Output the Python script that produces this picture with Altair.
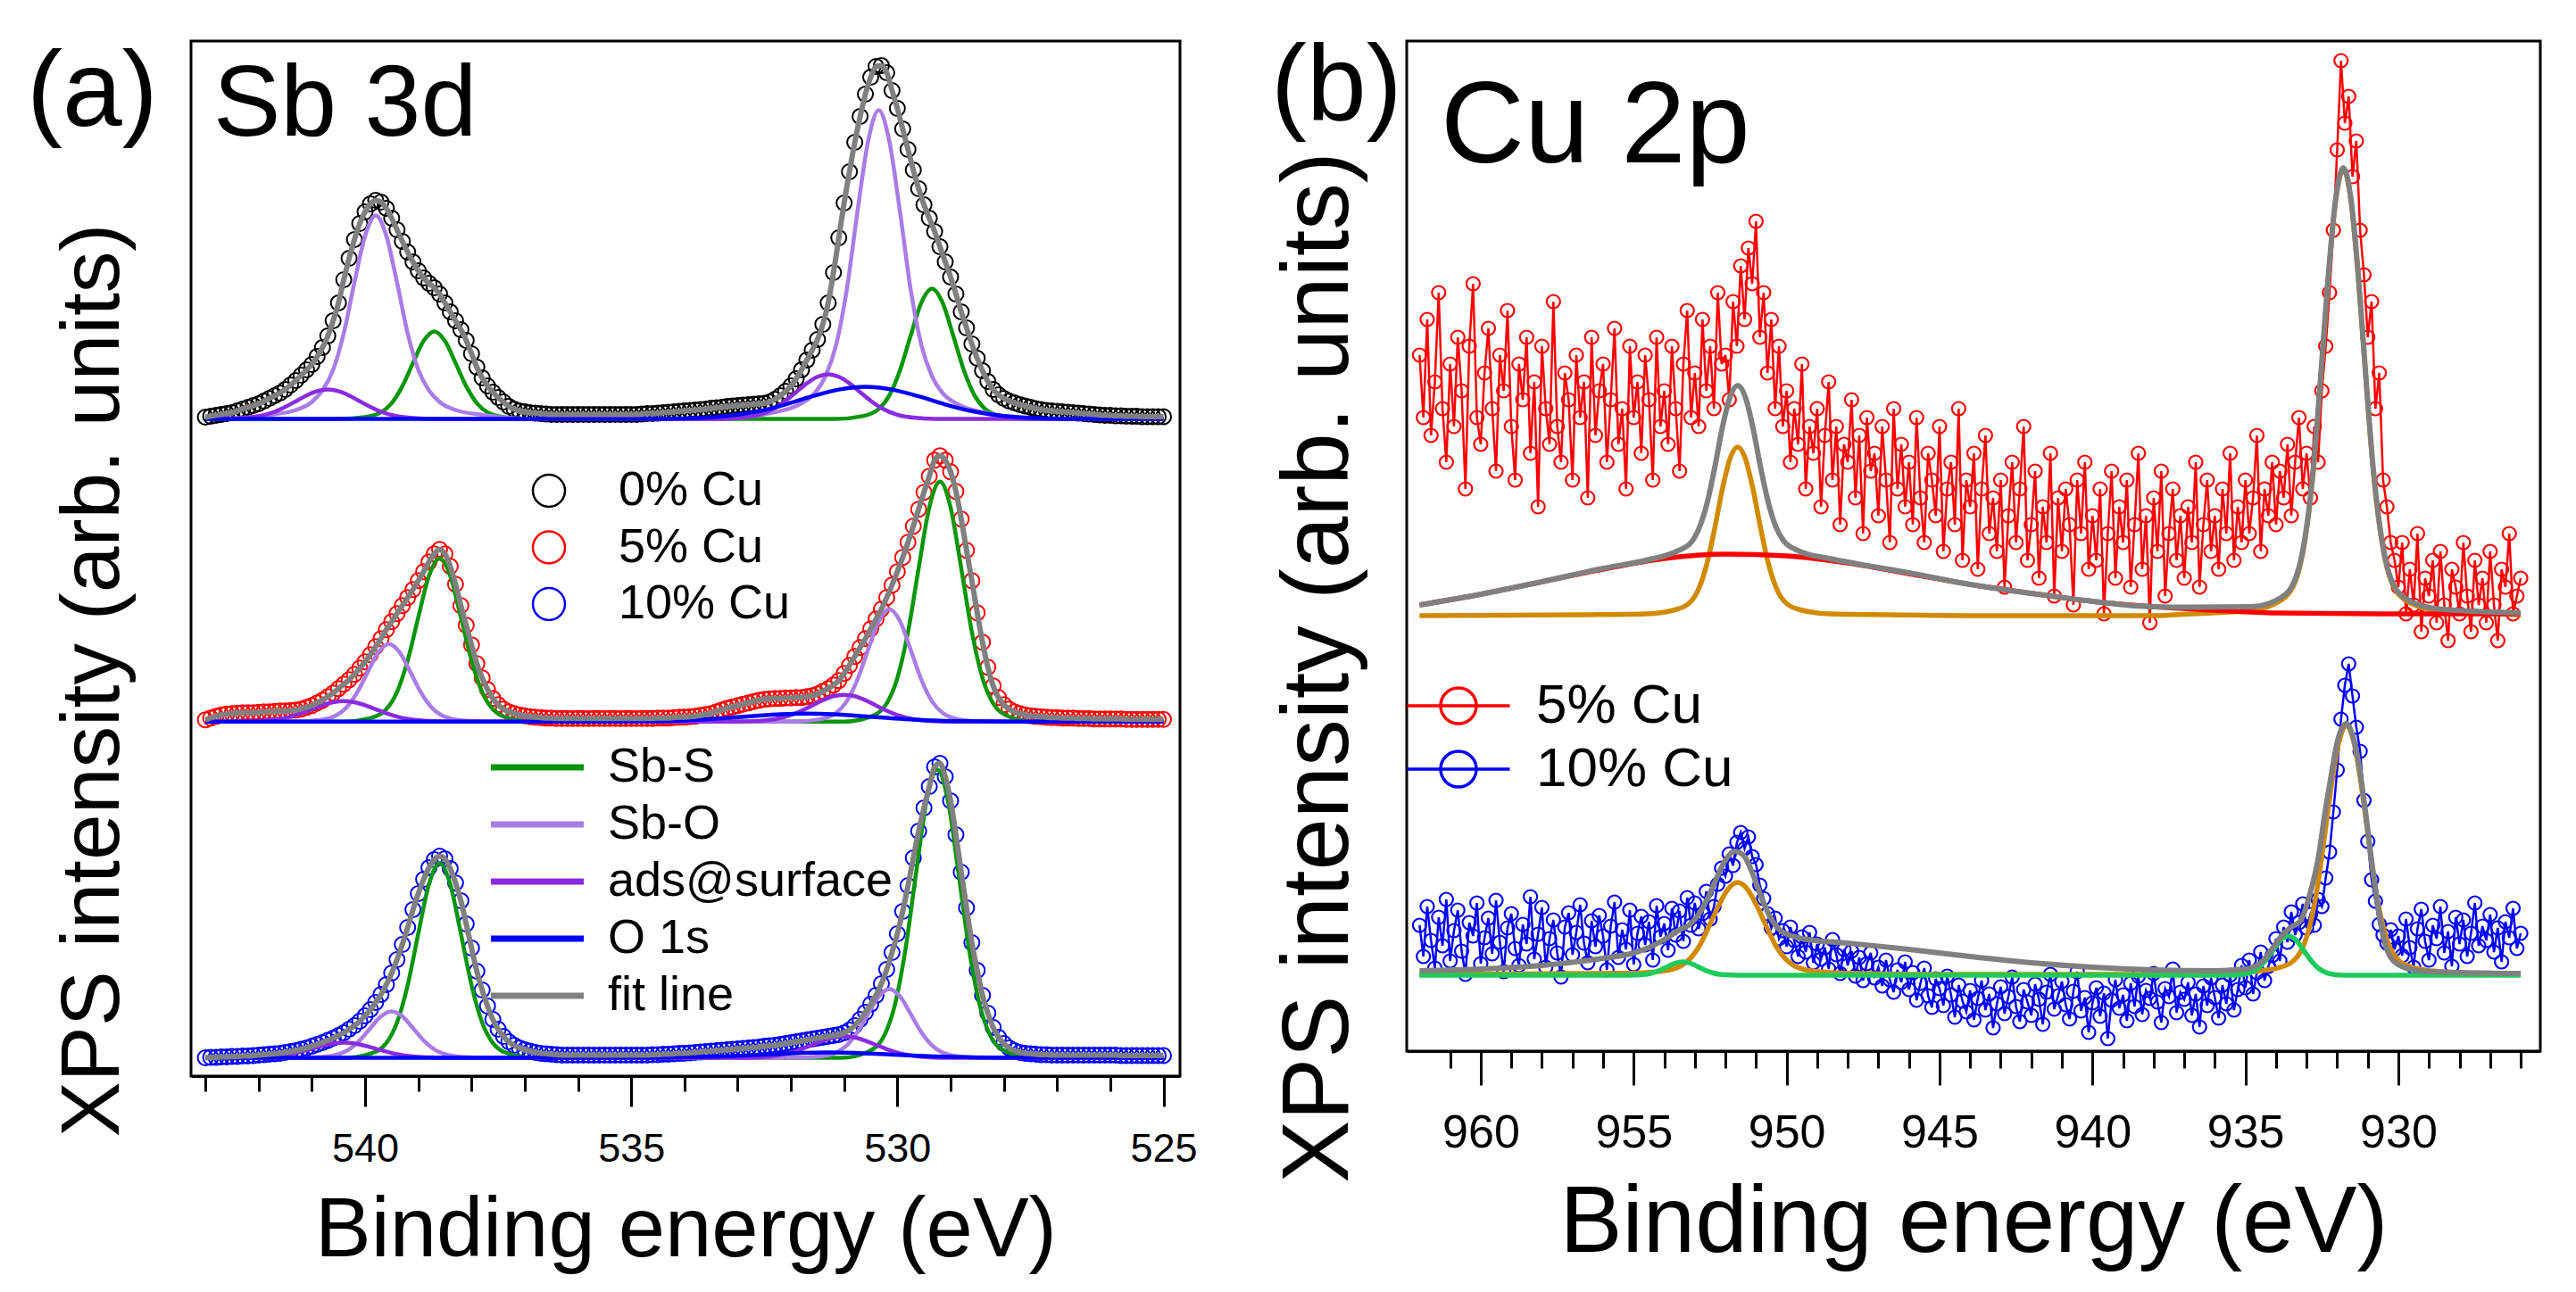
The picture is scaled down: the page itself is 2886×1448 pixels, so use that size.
import numpy as np
import pandas as pd
import altair as alt

FONT = "Liberation Sans, Arial, Helvetica, sans-serif"

# ======================= panel (a) : Sb 3d =======================
SB_E_START, SB_E_STEP, SB_E_COUNT = 543.0, 0.1, 181          # binding-energy sampling (eV)
SB_SAMPLES = ["0% Cu", "5% Cu", "10% Cu"]
SB_SAMPLE_COLORS = ["#000000", "#FF0000", "#0000FF"]
# stacking offset of each spectrum (intensity units)
SB_OFFSET = {"0% Cu": 73.65, "5% Cu": 39.73, "10% Cu": 2.05}

# measured intensity above each spectrum's baseline, 543.0 -> 525.0 eV, 0.1 eV steps
SB_0 = [
    0.2, 0.3, 0.4, 0.5, 0.6, 0.7, 0.9, 1.1, 1.3, 1.5,
    1.7, 2.0, 2.3, 2.6, 2.9, 3.3, 3.8, 4.3, 4.9, 5.5,
    6.1, 7.0, 8.0, 9.3, 11.0, 13.0, 15.6, 18.0, 20.1, 21.9,
    23.2, 24.1, 24.5, 24.3, 23.6, 22.5, 21.2, 19.9, 18.7, 17.6,
    16.6, 15.8, 15.2, 14.7, 14.0, 13.0, 12.0, 11.0, 10.0, 8.8,
    7.3, 5.8, 4.6, 3.7, 3.0, 2.4, 1.9, 1.4, 1.1, 0.9,
    0.8, 0.7, 0.65, 0.6, 0.55, 0.5, 0.5, 0.5, 0.5, 0.5,
    0.5, 0.5, 0.5, 0.5, 0.5, 0.5, 0.5, 0.5, 0.5, 0.5,
    0.5, 0.5, 0.55, 0.6, 0.6, 0.65, 0.7, 0.75, 0.8, 0.85,
    0.9, 0.95, 1.0, 1.05, 1.1, 1.2, 1.25, 1.3, 1.4, 1.45,
    1.5, 1.55, 1.6, 1.65, 1.7, 1.75, 1.9, 2.2, 2.6, 3.1,
    3.7, 4.5, 5.5, 6.6, 7.7, 8.9, 10.6, 13.0, 16.4, 20.3,
    24.2, 27.7, 31.0, 33.9, 36.4, 38.3, 39.5, 39.6, 38.8, 36.8,
    34.8, 32.5, 30.2, 27.9, 25.8, 24.0, 22.5, 21.0, 19.3, 17.6,
    15.9, 14.0, 12.0, 10.2, 8.4, 6.8, 5.4, 4.2, 3.3, 2.7,
    2.3, 2.0, 1.8, 1.6, 1.45, 1.3, 1.15, 1.05, 0.95, 0.9,
    0.85, 0.8, 0.75, 0.7, 0.65, 0.6, 0.55, 0.5, 0.45, 0.4,
    0.4, 0.35, 0.35, 0.3, 0.3, 0.3, 0.25, 0.25, 0.25, 0.25,
    0.25,
]
SB_5 = [
    0.2, 0.4, 0.6, 0.75, 0.85, 0.9, 0.95, 1.0, 1.0, 1.0,
    1.05, 1.1, 1.1, 1.15, 1.2, 1.2, 1.25, 1.3, 1.4, 1.6,
    1.8, 2.1, 2.4, 2.8, 3.2, 3.7, 4.2, 4.7, 5.3, 6.0,
    6.7, 7.5, 8.4, 9.3, 10.3, 11.2, 12.1, 13.0, 13.9, 14.8,
    15.8, 16.8, 17.9, 18.8, 19.3, 18.8, 17.4, 15.4, 13.0, 10.8,
    8.6, 6.5, 4.9, 3.6, 2.6, 1.9, 1.4, 1.1, 0.9, 0.75,
    0.65, 0.55, 0.5, 0.45, 0.4, 0.4, 0.35, 0.35, 0.35, 0.35,
    0.35, 0.35, 0.35, 0.35, 0.35, 0.35, 0.35, 0.35, 0.35, 0.35,
    0.35, 0.35, 0.35, 0.35, 0.35, 0.4, 0.4, 0.4, 0.45, 0.5,
    0.5, 0.55, 0.6, 0.7, 0.8, 0.9, 1.1, 1.3, 1.5, 1.65,
    1.8, 1.95, 2.1, 2.25, 2.4, 2.5, 2.55, 2.6, 2.6, 2.65,
    2.65, 2.7, 2.7, 2.8, 2.9, 3.1, 3.4, 3.7, 4.1, 4.6,
    5.4, 6.3, 7.3, 8.3, 9.3, 10.4, 11.5, 12.6, 13.9, 15.3,
    16.8, 18.4, 20.1, 21.9, 23.8, 25.7, 27.5, 29.3, 29.8, 29.3,
    28.0, 25.8, 22.7, 19.2, 15.8, 12.2, 8.9, 6.1, 4.0, 2.7,
    1.9, 1.4, 1.1, 0.9, 0.75, 0.65, 0.6, 0.55, 0.5, 0.45,
    0.45, 0.4, 0.4, 0.4, 0.35, 0.35, 0.35, 0.3, 0.3, 0.3,
    0.3, 0.3, 0.3, 0.25, 0.25, 0.25, 0.25, 0.25, 0.25, 0.25,
    0.25,
]
SB_10 = [
    0.0, 0.05, 0.05, 0.1, 0.1, 0.15, 0.15, 0.2, 0.2, 0.25,
    0.3, 0.35, 0.4, 0.45, 0.5, 0.6, 0.7, 0.8, 0.95, 1.1,
    1.3, 1.5, 1.7, 1.95, 2.2, 2.5, 2.8, 3.2, 3.6, 4.1,
    4.7, 5.4, 6.2, 7.1, 8.2, 9.5, 11.0, 12.7, 14.6, 16.6,
    18.4, 20.0, 21.3, 22.2, 22.6, 22.3, 21.2, 19.6, 17.6, 15.0,
    12.3, 9.7, 7.6, 5.8, 4.3, 3.2, 2.4, 1.8, 1.4, 1.1,
    0.9, 0.75, 0.6, 0.5, 0.45, 0.4, 0.35, 0.3, 0.3, 0.3,
    0.3, 0.3, 0.3, 0.3, 0.3, 0.3, 0.3, 0.3, 0.3, 0.3,
    0.3, 0.3, 0.3, 0.3, 0.35, 0.35, 0.4, 0.4, 0.45, 0.5,
    0.5, 0.55, 0.6, 0.65, 0.7, 0.75, 0.8, 0.85, 0.9, 0.95,
    1.0, 1.05, 1.1, 1.15, 1.2, 1.3, 1.35, 1.4, 1.5, 1.6,
    1.7, 1.8, 1.9, 2.0, 2.1, 2.2, 2.3, 2.4, 2.5, 2.6,
    2.8, 3.1, 3.6, 4.3, 5.1, 6.0, 7.0, 8.3, 9.9, 11.8,
    13.9, 16.4, 19.3, 22.4, 25.4, 28.0, 30.4, 32.6, 33.0, 31.5,
    28.8, 25.0, 20.8, 16.8, 12.9, 9.8, 7.0, 5.0, 3.4, 2.3,
    1.6, 1.1, 0.8, 0.6, 0.5, 0.45, 0.4, 0.35, 0.35, 0.3,
    0.3, 0.3, 0.3, 0.3, 0.3, 0.3, 0.3, 0.3, 0.3, 0.3,
    0.3, 0.3, 0.25, 0.25, 0.25, 0.25, 0.25, 0.25, 0.25, 0.25,
    0.25,
]
SB_DATA = {"0% Cu": SB_0, "5% Cu": SB_5, "10% Cu": SB_10}

SB_COMPONENTS = ["Sb-S", "Sb-O", "ads@surface", "O 1s", "fit line"]
SB_COMPONENT_COLORS = ["#0A960A", "#A97CE6", "#8A2BE2", "#0000FF", "#808080"]

# fitted components: (binding energy, height above baseline)
SB_KNOTS = {
    "0% Cu": {
        "Sb-S": [(543.0, 0), (540.5, 0), (540.0, 0.21), (539.7, 0.74), (539.5, 1.77), (539.3, 3.66), (539.1, 6.26),
                 (538.9, 8.74), (538.7, 9.8), (538.5, 8.74), (538.3, 6.26), (538.1, 3.66), (537.9, 1.77), (537.7, 0.74),
                 (537.4, 0.21), (536.9, 0), (531.15, 0), (530.65, 0.31), (530.35, 1.11), (530.15, 2.64), (529.95, 5.45),
                 (529.75, 9.33), (529.55, 13.02), (529.35, 14.6), (529.15, 13.02), (528.95, 9.33), (528.75, 5.45),
                 (528.55, 2.64), (528.35, 1.11), (528.05, 0.31), (527.55, 0), (525.0, 0)],
        "Sb-O": [(543.0, 0), (542.8, 0), (541.8, 0.46), (541.3, 1.0), (541.0, 1.9), (540.8, 3.2), (540.6, 5.5),
                 (540.4, 9.6), (540.2, 15.3), (540.0, 20.5), (539.8, 22.8), (539.6, 20.5), (539.4, 15.3), (539.2, 9.6),
                 (539.0, 5.5), (538.8, 3.2), (538.6, 1.9), (538.3, 1.0), (537.8, 0.46), (536.8, 0), (533.35, 0),
                 (532.35, 0.7), (531.85, 1.6), (531.55, 2.9), (531.35, 4.8), (531.15, 8.3), (530.95, 14.5),
                 (530.75, 23.2), (530.55, 31.1), (530.35, 34.6), (530.15, 31.1), (529.95, 23.2), (529.75, 14.5),
                 (529.55, 8.3), (529.35, 4.8), (529.15, 2.9), (528.85, 1.6), (528.35, 0.7), (527.35, 0), (525.0, 0)],
        "ads@surface": [(543.0, 0), (542.7, 0), (542.3, 0.09), (542.0, 0.30), (541.7, 0.80), (541.5, 1.34),
                        (541.3, 1.98), (541.1, 2.63), (540.9, 3.12), (540.7, 3.3), (540.5, 3.12), (540.3, 2.63),
                        (540.1, 1.98), (539.9, 1.34), (539.7, 0.80), (539.4, 0.30), (539.1, 0.09), (538.7, 0),
                        (533.3, 0), (532.9, 0.14), (532.6, 0.46), (532.3, 1.22), (532.1, 2.03), (531.9, 3.0),
                        (531.7, 3.99), (531.5, 4.73), (531.3, 5.0), (531.1, 4.73), (530.9, 3.99), (530.7, 3.0),
                        (530.5, 2.03), (530.3, 1.22), (530.0, 0.46), (529.7, 0.14), (529.3, 0), (525.0, 0)],
        "O 1s": [(543.0, 0), (534.6, 0), (534.1, 0.05), (533.6, 0.15), (533.1, 0.40), (532.6, 0.87), (532.1, 1.62),
                 (531.6, 2.53), (531.1, 3.29), (530.6, 3.6), (530.1, 3.29), (529.6, 2.53), (529.1, 1.62),
                 (528.6, 0.87), (528.1, 0.40), (527.6, 0.15), (527.1, 0.05), (526.6, 0), (525.0, 0)],
    },
    "5% Cu": {
        "Sb-S": [(543.0, 0), (540.4, 0), (539.9, 0.38), (539.6, 1.39), (539.4, 3.31), (539.2, 6.83), (539.0, 11.69),
                 (538.8, 16.32), (538.6, 18.3), (538.4, 16.32), (538.2, 11.69), (538.0, 6.83), (537.8, 3.31),
                 (537.6, 1.39), (537.3, 0.38), (536.8, 0), (531.0, 0), (530.5, 0.56), (530.2, 2.04), (530.0, 4.87),
                 (529.8, 10.03), (529.6, 17.19), (529.4, 24.0), (529.2, 26.9), (529.0, 24.0), (528.8, 17.19),
                 (528.6, 10.03), (528.4, 4.87), (528.2, 2.04), (527.9, 0.56), (527.4, 0), (525.0, 0)],
        "Sb-O": [(543.0, 0), (541.35, 0), (540.85, 0.18), (540.55, 0.66), (540.35, 1.57), (540.15, 3.25),
                 (539.95, 5.56), (539.75, 7.76), (539.55, 8.7), (539.35, 7.76), (539.15, 5.56), (538.95, 3.25),
                 (538.75, 1.57), (538.55, 0.66), (538.25, 0.18), (537.75, 0), (531.95, 0), (531.45, 0.26),
                 (531.15, 0.96), (530.95, 2.28), (530.75, 4.70), (530.55, 8.05), (530.35, 11.24), (530.15, 12.6),
                 (529.95, 11.24), (529.75, 8.05), (529.55, 4.70), (529.35, 2.28), (529.15, 0.96), (528.85, 0.26),
                 (528.35, 0), (525.0, 0)],
        "ads@surface": [(543.0, 0), (542.4, 0), (542.0, 0.06), (541.7, 0.21), (541.4, 0.56), (541.2, 0.93),
                        (541.0, 1.38), (540.8, 1.83), (540.6, 2.17), (540.4, 2.3), (540.2, 2.17), (540.0, 1.83),
                        (539.8, 1.38), (539.6, 0.93), (539.4, 0.56), (539.1, 0.21), (538.8, 0.06), (538.4, 0),
                        (533.0, 0), (532.6, 0.08), (532.3, 0.27), (532.0, 0.73), (531.8, 1.22), (531.6, 1.80),
                        (531.4, 2.39), (531.2, 2.84), (531.0, 3.0), (530.8, 2.84), (530.6, 2.39), (530.4, 1.80),
                        (530.2, 1.22), (530.0, 0.73), (529.7, 0.27), (529.4, 0.08), (529.0, 0), (525.0, 0)],
        "O 1s": [(543.0, 0), (535.7, 0), (535.2, 0.01), (534.7, 0.04), (534.2, 0.10), (533.7, 0.22), (533.2, 0.41),
                 (532.7, 0.63), (532.2, 0.82), (531.7, 0.9), (531.2, 0.82), (530.7, 0.63), (530.2, 0.41),
                 (529.7, 0.22), (529.2, 0.10), (528.7, 0.04), (528.2, 0.01), (527.7, 0), (525.0, 0)],
    },
    "10% Cu": {
        "Sb-S": [(543.0, 0), (540.4, 0), (539.9, 0.46), (539.6, 1.66), (539.4, 3.95), (539.2, 8.13), (539.0, 13.93),
                 (538.8, 19.45), (538.6, 21.8), (538.4, 19.45), (538.2, 13.93), (538.0, 8.13), (537.8, 3.95),
                 (537.6, 1.66), (537.3, 0.46), (536.8, 0), (531.05, 0), (530.55, 0.68), (530.25, 2.45),
                 (530.05, 5.85), (529.85, 12.05), (529.65, 20.64), (529.45, 28.81), (529.25, 32.3), (529.05, 28.81),
                 (528.85, 20.64), (528.65, 12.05), (528.45, 5.85), (528.25, 2.45), (527.95, 0.68), (527.45, 0),
                 (525.0, 0)],
        "Sb-O": [(543.0, 0), (541.3, 0), (540.8, 0.11), (540.5, 0.40), (540.3, 0.94), (540.1, 1.94), (539.9, 3.32),
                 (539.7, 4.64), (539.5, 5.2), (539.3, 4.64), (539.1, 3.32), (538.9, 1.94), (538.7, 0.94),
                 (538.5, 0.40), (538.2, 0.11), (537.7, 0), (531.95, 0), (531.45, 0.16), (531.15, 0.59),
                 (530.95, 1.39), (530.75, 2.87), (530.55, 4.92), (530.35, 6.87), (530.15, 7.7), (529.95, 6.87),
                 (529.75, 4.92), (529.55, 2.87), (529.35, 1.39), (529.15, 0.59), (528.85, 0.16), (528.35, 0),
                 (525.0, 0)],
        "ads@surface": [(543.0, 0), (542.4, 0), (542.0, 0.05), (541.7, 0.15), (541.4, 0.41), (541.2, 0.69),
                        (541.0, 1.02), (540.8, 1.35), (540.6, 1.61), (540.4, 1.7), (540.2, 1.61), (540.0, 1.35),
                        (539.8, 1.02), (539.6, 0.69), (539.4, 0.41), (539.1, 0.15), (538.8, 0.05), (538.4, 0),
                        (533.0, 0), (532.6, 0.06), (532.3, 0.22), (532.0, 0.58), (531.8, 0.97), (531.6, 1.44),
                        (531.4, 1.91), (531.2, 2.27), (531.0, 2.4), (530.8, 2.27), (530.6, 1.91), (530.4, 1.44),
                        (530.2, 0.97), (530.0, 0.58), (529.7, 0.22), (529.4, 0.06), (529.0, 0), (525.0, 0)],
        "O 1s": [(543.0, 0), (535.3, 0), (534.3, 0.03), (533.8, 0.07), (533.3, 0.15), (532.8, 0.27), (532.3, 0.42),
                 (531.8, 0.55), (531.3, 0.6), (530.8, 0.55), (530.3, 0.42), (529.8, 0.27), (529.3, 0.15),
                 (528.8, 0.07), (528.3, 0.03), (527.3, 0), (525.0, 0)],
    },
}
SB_MINOR_TICKS = list(range(543, 524, -1))
SB_MAJOR_TICKS = [540, 535, 530, 525]

# ======================= panel (b) : Cu 2p =======================
CU_E_START, CU_E_STEP, CU_E_COUNT = 962.0, 0.125, 289
CU_SAMPLES = ["5% Cu", "10% Cu"]
CU_SAMPLE_COLORS = ["#FF0000", "#0000FF"]
# measured points, 962.0 -> 926.0 eV, 0.125 eV steps (one row = 1 eV)
CU_5 = [
    78, 71, 82, 69, 75, 85, 72, 66,      # 962
    77, 70, 80, 74, 63, 79, 86, 71,      # 961
    68, 76, 81, 72, 65, 78, 74, 83,      # 960
    70, 64, 77, 73, 80, 67, 75, 61,      # 959
    79, 72, 68, 84, 70, 66, 76, 73,      # 958
    64, 78, 71, 75, 62, 80, 69, 74,      # 957
    77, 66, 73, 81, 68, 72, 63, 79,      # 956
    71, 75, 67, 78, 73, 64, 80, 70,      # 955
    74, 68, 79, 72, 65, 77, 83, 71,      # 954
    76, 70, 82, 74, 79, 72, 85, 77,      # 953
    78, 73, 84, 79, 88, 82, 90, 86,      # 952
    93, 80, 85, 76, 82, 72, 79, 70,      # 951
    74, 66, 72, 68, 77, 63, 70, 67,      # 950
    72, 61, 69, 75, 64, 70, 59, 68,      # 949
    66, 73, 62, 69, 58, 71, 65, 67,      # 948
    60, 70, 64, 57, 72, 63, 68, 61,      # 947
    66, 59, 71, 62, 57, 67, 64, 60,      # 946
    70, 56, 63, 66, 59, 72, 55, 64,      # 945
    61, 67, 54, 63, 69, 58, 62, 56,      # 944
    64, 52, 60, 66, 57, 63, 70, 55,      # 943
    59, 65, 53, 61, 57, 67, 51, 62,      # 942
    56, 63, 59, 50, 64, 58, 66, 54,      # 941
    60, 55, 63, 49, 58, 65, 53, 61,      # 940
    57, 64, 52, 59, 67, 54, 60, 48,      # 939
    62, 56, 65, 51, 58, 63, 55, 60,      # 938
    53, 61, 57, 66, 52, 59, 64, 56,      # 937
    60, 54, 63, 58, 67, 55, 61, 57,      # 936
    64, 58, 62, 69, 56, 63, 60, 66,      # 935
    59, 65, 62, 68, 60, 66, 71, 63,      # 934
    67, 62, 70, 66, 74, 79, 85, 92,      # 933
    101, 111, 104, 107, 98, 102, 92, 87,  # 932
    80, 84, 72, 76, 64, 61, 57, 55,      # 931
    52, 57, 49, 54, 50, 58, 47, 53,      # 930
    51, 55, 48, 56, 50, 46, 54, 52,      # 929
    49, 57, 51, 47, 55, 50, 53, 48,      # 928
    56, 50, 46, 54, 52, 58, 49, 51,      # 927
    53,                                  # 926
]
CU_10 = [
    14.1, 10.6, 16.2, 12.4, 9.3, 15.0, 11.8, 17.0,    # 962
    10.1, 13.5, 15.8, 11.2, 8.6, 14.4, 12.9, 16.6,    # 961
    9.8, 12.7, 14.9, 10.9, 16.9, 12.2, 8.9, 13.8,     # 960
    15.4, 11.5, 9.6, 14.2, 12.0, 17.3, 10.3, 13.1,    # 959
    16.1, 9.4, 12.6, 14.7, 11.0, 8.3, 13.9, 15.5,     # 958
    10.8, 13.3, 16.4, 12.1, 9.9, 14.6, 11.7, 15.2,    # 957
    12.9, 9.1, 14.0, 16.7, 10.5, 13.6, 11.4, 15.8,    # 956
    9.7, 13.2, 15.1, 11.9, 14.5, 10.2, 16.3, 12.8,    # 955
    14.3, 11.3, 16.0, 13.0, 15.7, 12.3, 17.2, 14.1,   # 954
    16.6, 13.7, 15.4, 17.9, 14.8, 16.2, 18.7, 20.5,   # 953
    19.6, 22.1, 20.8, 23.4, 24.5, 22.7, 24.0, 21.8,   # 952
    20.9, 18.6, 17.1, 15.4, 13.8, 14.9, 12.6, 13.5,   # 951
    11.7, 13.9, 12.4, 10.6, 12.8, 11.1, 13.3, 9.9,    # 950
    12.0, 10.3, 11.6, 9.2, 12.5, 10.8, 8.7, 11.4,     # 949
    9.6, 11.2, 8.4, 10.5, 7.9, 9.8, 11.0, 8.2,        # 948
    9.4, 7.3, 10.2, 8.0, 6.6, 9.1, 7.7, 10.0,         # 947
    6.9, 8.8, 5.7, 7.6, 9.3, 6.2, 4.9, 8.1,           # 946
    7.0, 5.1, 8.4, 6.3, 3.8, 7.4, 5.6, 4.4,           # 945
    6.8, 3.5, 5.9, 7.9, 4.6, 6.4, 2.6, 5.3,           # 944
    7.2, 4.2, 6.1, 8.3, 5.0, 3.3, 6.9, 5.5,           # 943
    4.0, 7.5, 5.8, 3.0, 6.6, 8.6, 4.7, 6.2,           # 942
    7.8, 5.2, 3.6, 6.7, 8.9, 4.5, 6.0, 2.1,           # 941
    5.4, 7.1, 3.9, 6.5, 1.4, 5.7, 8.0, 4.8,           # 940
    6.3, 3.4, 7.6, 5.0, 8.4, 4.1, 6.8, 5.9,           # 939
    8.7, 5.5, 3.2, 7.0, 6.1, 9.2, 4.3, 6.6,           # 938
    5.8, 7.7, 4.0, 6.4, 2.7, 7.3, 5.1, 8.2,           # 937
    6.0, 3.7, 7.4, 5.3, 8.5, 4.6, 6.9, 9.6,           # 936
    7.1, 10.2, 6.4, 8.8, 11.1, 7.9, 9.5, 10.7,        # 935
    12.6, 10.1, 13.9, 12.2, 15.6, 13.0, 14.4, 16.5,   # 934
    13.8, 15.3, 14.1, 17.0, 16.2, 19.4, 22.3, 26.8,   # 933
    31.5, 37.2, 41.0, 43.4, 39.8, 36.3, 33.6, 28.1,   # 932
    23.5, 19.2, 16.8, 14.2, 13.0, 12.1, 13.6, 11.4,   # 931
    12.9, 10.7, 14.8, 11.6, 9.4, 13.7, 15.9, 12.3,    # 930
    10.2, 14.1, 12.6, 16.2, 11.0, 13.4, 9.5, 15.0,    # 929
    12.0, 14.7, 10.6, 13.2, 16.6, 11.8, 14.0, 12.4,   # 928
    15.3, 11.1, 13.8, 10.0, 14.5, 12.7, 16.0, 11.5,   # 927
    13.2,                                            # 926
]
CU_DATA = {"5% Cu": CU_5, "10% Cu": CU_10}

CU_COMPONENTS = ["peak", "background", "shoulder", "fit"]
CU_COMPONENT_COLORS = ["#D18A00", "#FF0000", "#1DCB5B", "#808080"]
CU_KNOTS = {
    "5% Cu": {
        "peak": [(962.0, 48.8), (956.6, 48.9), (954.6, 49.0), (953.6, 49.5), (953.1, 50.5), (952.85, 52.0),
                 (952.6, 54.7), (952.35, 58.6), (952.1, 63.0), (951.85, 66.4), (951.6, 67.7), (951.35, 66.4),
                 (951.1, 63.0), (950.85, 58.6), (950.6, 54.7), (950.35, 52.0), (950.1, 50.5), (949.6, 49.5),
                 (948.6, 49.0), (946.6, 48.9), (944.0, 48.8), (938.0, 48.8), (936.8, 49.0), (934.8, 49.4),
                 (933.8, 50.6), (933.3, 53.3), (933.05, 57.3), (932.8, 64.3), (932.55, 74.8), (932.3, 86.3),
                 (932.05, 95.3), (931.8, 98.8), (931.55, 95.3), (931.3, 86.3), (931.05, 74.8), (930.8, 64.3),
                 (930.55, 57.3), (930.3, 53.3), (929.8, 50.6), (928.8, 49.4), (926.8, 49.0), (926.0, 48.9)],
        "background": [(962.0, 50.0), (960.0, 51.2), (958.0, 52.6), (956.0, 54.0), (954.0, 55.2), (952.0, 55.7),
                       (950.0, 55.5), (948.0, 54.7), (946.0, 53.5), (944.0, 52.3), (942.0, 51.3), (940.0, 50.4),
                       (938.0, 49.8), (936.0, 49.4), (934.0, 49.1), (930.0, 49.0), (926.0, 49.0)],
        "fit": [(962.0, 50.0), (960.0, 51.2), (958.0, 52.6), (956.0, 54.1), (954.6, 55.0), (953.6, 56.0),
                (953.1, 57.1), (952.85, 58.7), (952.6, 61.4), (952.35, 65.4), (952.1, 69.9), (951.85, 73.3),
                (951.6, 74.6), (951.35, 73.3), (951.1, 69.85), (950.85, 65.4), (950.6, 61.5), (950.35, 58.75),
                (950.1, 57.2), (949.6, 56.05), (948.6, 55.2), (948.0, 54.8), (946.0, 53.6), (944.0, 52.3),
                (942.0, 51.3), (940.0, 50.4), (938.0, 49.8), (936.8, 49.75), (934.8, 49.8), (933.8, 50.9),
                (933.3, 53.6), (933.05, 57.6), (932.8, 64.6), (932.55, 75.1), (932.3, 86.5), (932.05, 95.5),
                (931.8, 99.0), (931.55, 95.5), (931.3, 86.5), (931.05, 75.0), (930.8, 64.5), (930.55, 57.5),
                (930.3, 53.5), (929.8, 50.8), (928.8, 49.6), (926.8, 49.2), (926.0, 49.1)],
    },
    "10% Cu": {
        "peak": [(962.0, 8.6), (955.35, 8.72), (954.1, 8.96), (953.47, 9.53), (953.16, 10.35), (952.85, 11.79),
                 (952.54, 13.96), (952.22, 16.33), (951.91, 18.18), (951.6, 18.9), (951.29, 18.18), (950.98, 16.33),
                 (950.66, 13.96), (950.35, 11.79), (950.04, 10.35), (949.73, 9.53), (949.1, 8.96), (947.85, 8.72),
                 (945.0, 8.6), (938.0, 8.6), (936.7, 8.65), (934.7, 8.93), (933.7, 9.58), (933.2, 11.11),
                 (932.95, 13.34), (932.7, 17.25), (932.45, 23.1), (932.2, 29.5), (931.95, 34.55), (931.7, 36.5),
                 (931.45, 34.55), (931.2, 29.5), (930.95, 23.1), (930.7, 17.25), (930.45, 13.34), (930.2, 11.11),
                 (929.7, 9.58), (928.7, 8.93), (926.7, 8.65), (926.0, 8.62)],
        "shoulder": [(962.0, 8.5), (955.2, 8.5), (954.7, 8.57), (954.4, 8.75), (954.15, 9.05), (953.9, 9.46),
                     (953.65, 9.85), (953.4, 10.0), (953.15, 9.85), (952.9, 9.46), (952.65, 9.05), (952.4, 8.75),
                     (952.1, 8.57), (951.6, 8.5), (935.4, 8.5), (934.9, 8.72), (934.6, 9.25), (934.35, 10.13),
                     (934.1, 11.3), (933.85, 12.46), (933.6, 12.9), (933.35, 12.46), (933.1, 11.3), (932.85, 10.13),
                     (932.6, 9.25), (932.3, 8.72), (931.8, 8.5), (926.0, 8.5)],
        "fit": [(962.0, 9.0), (960.0, 9.2), (958.0, 9.6), (956.0, 10.4), (955.0, 11.0), (954.5, 11.6), (954.0, 12.5),
                (953.5, 13.6), (953.2, 14.1), (952.9, 15.2), (952.6, 17.0), (952.3, 19.3), (952.0, 21.4),
                (951.7, 22.4), (951.4, 21.9), (951.1, 19.8), (950.8, 17.0), (950.5, 14.8), (950.2, 13.5),
                (949.8, 12.9), (949.5, 12.6), (948.0, 12.1), (946.0, 11.4), (944.0, 10.6), (942.0, 9.9),
                (940.0, 9.4), (938.0, 9.1), (936.0, 9.0), (935.0, 9.2), (934.5, 9.9), (934.1, 11.6), (933.8, 13.0),
                (933.5, 13.9), (933.2, 14.6), (932.9, 17.5), (932.6, 22.0), (932.4, 26.7), (932.2, 30.8),
                (932.0, 34.6), (931.7, 36.7), (931.45, 34.8), (931.3, 32.3), (931.1, 27.5), (930.9, 22.0),
                (930.7, 17.0), (930.5, 12.9), (930.3, 10.8), (930.0, 9.7), (929.5, 9.1), (929.0, 8.9),
                (926.0, 8.7)],
    },
}
CU_MINOR_TICKS = list(range(961, 925, -1))
CU_MAJOR_TICKS = [960, 955, 950, 945, 940, 935, 930]

PANEL_LABELS = ["(a)", "(b)"]
CORE_LEVELS = ["Sb 3d", "Cu 2p"]
X_TITLE = "Binding energy (eV)"
Y_TITLE = "XPS intensity (arb. units)"
# legend glyphs (unit = half the symbol size): a long line, and a line through a circle
LEGEND_A_SYMBOL = "M-2,0L2,0"
LEGEND_B_SYMBOL = "M-2.875,0L2.875,0M1,0A1,1,0,1,1,-1,0A1,1,0,1,1,1,0"

# ----------------------- tables -----------------------
sb_e = np.round(SB_E_START - SB_E_STEP * np.arange(SB_E_COUNT), 3)
sb_pts = pd.DataFrame([
    {"sample": s, "E": float(e), "v": h + SB_OFFSET[s]}
    for s in SB_SAMPLES for e, h in zip(sb_e, SB_DATA[s])
])
sb_fit = sb_pts.assign(component="fit line")
sb_comp = pd.DataFrame([
    {"series": f"{s}|{c}", "component": c, "E": e, "v": h + SB_OFFSET[s]}
    for s in SB_SAMPLES for c, knots in SB_KNOTS[s].items() for e, h in knots
])

cu_e = np.round(CU_E_START - CU_E_STEP * np.arange(CU_E_COUNT), 3)
cu_pts = pd.DataFrame([
    {"sample": s, "E": float(e), "v": float(v)}
    for s in CU_SAMPLES for e, v in zip(cu_e, CU_DATA[s])
])
cu_rows = [
    {"series": f"{s}|{c}", "component": c, "E": e, "v": v}
    for s in CU_SAMPLES for c, knots in CU_KNOTS[s].items() for e, v in knots
]
cu_comp = pd.DataFrame([r for r in cu_rows if r["component"] != "fit"])
cu_fit = pd.DataFrame([r for r in cu_rows if r["component"] == "fit"])

# ----------------------- axes helpers -----------------------


def minor_axis(values, size):
    return alt.Axis(values=values, orient="bottom", labels=False, domain=False, grid=False,
                    ticks=True, tickSize=size, tickWidth=3, tickColor="black", title=None)


def major_axis(values, size, lab_fs, lab_pad, t_fs, t_x, t_y):
    return alt.Axis(values=values, orient="bottom", format="d", grid=False,
                    ticks=True, tickSize=size, tickWidth=3, tickColor="black",
                    domain=True, domainWidth=3, domainColor="black",
                    labelFont=FONT, labelFontSize=lab_fs, labelPadding=lab_pad, labelColor="black",
                    labelBaseline="top", labelAlign="center", labelAngle=0,
                    labelFlush=False, labelOverlap=False,
                    title=X_TITLE, titleFont=FONT, titleFontSize=t_fs, titleFontWeight="normal",
                    titleColor="black", titleX=t_x, titleY=t_y, titleBaseline="alphabetic",
                    titleAlign="center", titleLimit=3000)


def y_axis(t_fs, t_x, t_y):
    return alt.Axis(title=Y_TITLE, labels=False, ticks=False, domain=False, grid=False,
                    titleFont=FONT, titleFontSize=t_fs, titleFontWeight="normal", titleColor="black",
                    titleAngle=270, titleX=t_x, titleY=t_y, titleBaseline="alphabetic",
                    titleAlign="center", titleLimit=3000)


# ----------------------- panel (a) -----------------------
WA, HA = 1108, 1160
sc_xa = alt.Scale(domain=[524.69, 543.27], reverse=True, nice=False, zero=False)
sc_ya = alt.Scale(domain=[0, 116], nice=False, zero=False)
ya = alt.Y("v:Q", scale=sc_ya, axis=y_axis(93, -82, 716))

leg_samples = alt.Legend(title=None, orient="none", legendX=374, legendY=477, direction="vertical",
                         symbolType="circle", symbolSize=1296, symbolStrokeWidth=2.5,
                         symbolFillColor="transparent", labelFont=FONT, labelFontSize=54,
                         labelColor="black", labelOffset=51, labelLimit=2000, rowPadding=9.5, padding=0)
leg_comps = alt.Legend(title=None, orient="none", legendX=358.5, legendY=784.5, direction="vertical",
                       symbolType=LEGEND_A_SYMBOL, symbolSize=2704, symbolStrokeWidth=7,
                       symbolFillColor="transparent", labelFont=FONT, labelFontSize=54, labelColor="black",
                       labelOffset=49.5, labelLimit=2000, rowPadding=7, padding=0)
color_a = alt.Color("component:N", scale=alt.Scale(domain=SB_COMPONENTS, range=SB_COMPONENT_COLORS),
                    legend=leg_comps)

a_pts = alt.Chart(sb_pts).mark_point(filled=False, size=289, strokeWidth=2, opacity=1).encode(
    x=alt.X("E:Q", scale=sc_xa, axis=minor_axis(SB_MINOR_TICKS, 17)),
    y=ya,
    stroke=alt.Stroke("sample:N", scale=alt.Scale(domain=SB_SAMPLES, range=SB_SAMPLE_COLORS), legend=leg_samples),
)
a_comp = alt.Chart(sb_comp).mark_line(strokeWidth=4.5, interpolate="monotone").encode(
    x=alt.X("E:Q", scale=sc_xa, axis=major_axis(SB_MAJOR_TICKS, 34, 45, 25, 94, WA / 2, 201)),
    y=ya, color=color_a, detail="series:N",
    order=alt.Order("E:Q", sort="descending"),
)
a_fit = alt.Chart(sb_fit).mark_line(strokeWidth=6, interpolate="monotone").encode(
    x=alt.X("E:Q", scale=sc_xa, axis=None),
    y=ya, color=color_a, detail="sample:N",
    order=alt.Order("E:Q", sort="descending"),
)
lab_df_a = pd.DataFrame({"panel": [PANEL_LABELS[0]], "core": [CORE_LEVELS[0]]})
a_tag = alt.Chart(lab_df_a).mark_text(align="left", baseline="alphabetic", font=FONT, fontSize=120,
                                      color="black").encode(x=alt.value(-184), y=alt.value(95), text="panel:N")
a_core = alt.Chart(lab_df_a).mark_text(align="left", baseline="alphabetic", font=FONT, fontSize=113,
                                       color="black").encode(x=alt.value(25), y=alt.value(106), text="core:N")
a_anchor = alt.Chart(lab_df_a).mark_point(filled=True, size=1, color="white", strokeWidth=0).encode(
    x=alt.value(-204), y=alt.value(-36))

panel_a = alt.layer(a_pts, a_comp, a_fit, a_tag, a_core, a_anchor).resolve_axis(
    x="independent").properties(width=WA, height=HA)

# ----------------------- panel (b) -----------------------
WB, HB = 1270, 1132
sc_xb = alt.Scale(domain=[925.36, 962.42], reverse=True, nice=False, zero=False)
sc_yb = alt.Scale(domain=[0, 113.2], nice=False, zero=False)
yb = alt.Y("v:Q", scale=sc_yb, axis=y_axis(105, -67, 701.5))

leg_b = alt.Legend(title=None, orient="none", legendX=27, legendY=714, direction="vertical",
                   symbolType=LEGEND_B_SYMBOL, symbolSize=1600, symbolStrokeWidth=3.5,
                   symbolFillColor="transparent", labelFont=FONT, labelFontSize=62, labelColor="black",
                   labelOffset=56, labelLimit=2000, rowPadding=9, padding=0)
stroke_b = alt.Stroke("sample:N", scale=alt.Scale(domain=CU_SAMPLES, range=CU_SAMPLE_COLORS), legend=leg_b)
color_b = alt.Color("component:N", scale=alt.Scale(domain=CU_COMPONENTS, range=CU_COMPONENT_COLORS), legend=None)

b_pts = alt.Chart(cu_pts).mark_point(filled=False, size=225, strokeWidth=2.2, opacity=1).encode(
    x=alt.X("E:Q", scale=sc_xb, axis=minor_axis(CU_MINOR_TICKS, 19)), y=yb, stroke=stroke_b)
b_line = alt.Chart(cu_pts).mark_line(strokeWidth=2.5).encode(
    x=alt.X("E:Q", scale=sc_xb, axis=major_axis(CU_MAJOR_TICKS, 38, 52, 28, 105, WB / 2, 224)),
    y=yb, stroke=stroke_b,
    order=alt.Order("E:Q", sort="descending"))
b_comp = alt.Chart(cu_comp).mark_line(strokeWidth=5.5, interpolate="monotone").encode(
    x=alt.X("E:Q", scale=sc_xb, axis=None), y=yb, color=color_b, detail="series:N",
    order=alt.Order("E:Q", sort="descending"))
b_fit = alt.Chart(cu_fit).mark_line(strokeWidth=6, interpolate="monotone").encode(
    x=alt.X("E:Q", scale=sc_xb, axis=None),
    y=yb, color=color_b, detail="series:N",
    order=alt.Order("E:Q", sort="descending"))
lab_df_b = pd.DataFrame({"panel": [PANEL_LABELS[1]], "core": [CORE_LEVELS[1]]})
b_tag = alt.Chart(lab_df_b).mark_text(align="left", baseline="alphabetic", font=FONT, fontSize=120,
                                      color="black").encode(x=alt.value(-152), y=alt.value(88), text="panel:N")
b_core = alt.Chart(lab_df_b).mark_text(align="left", baseline="alphabetic", font=FONT, fontSize=130,
                                       color="black").encode(x=alt.value(38), y=alt.value(136), text="core:N")

panel_b = alt.layer(b_pts, b_line, b_comp, b_fit, b_tag, b_core).resolve_axis(
    x="independent").properties(width=WB, height=HB)

chart = alt.hconcat(panel_a, panel_b, spacing=254, bounds="flush").resolve_scale(
    x="independent", y="independent", color="independent", stroke="independent"
).resolve_legend(color="independent", stroke="independent").properties(
    padding=0
).configure(font=FONT).configure_view(stroke="black", strokeWidth=3, fill="white")

chart.save("out.html", embed_options={"renderer": "svg", "actions": False})
